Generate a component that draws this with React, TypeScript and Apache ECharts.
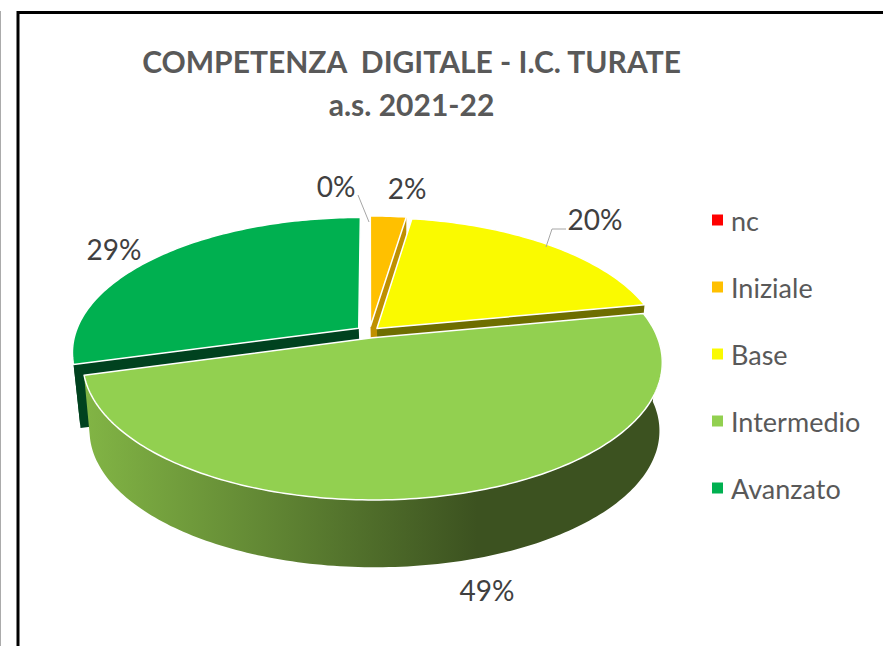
import React, { useEffect, useRef } from "react";
import * as echarts from "echarts";

const categories = ["nc", "Iniziale", "Base", "Intermedio", "Avanzato"];
const values = [0, 2.4, 19.6, 48.7, 29.3];
const colors = ["#FF0000", "#FFC000", "#FAFA00", "#92D050", "#00B050"];
const cutColors = ["#800000", "#BF9000", "#6E6E00", "#5E8A2E", "#00421F"];
const drawOrder = [4, 0, 1, 2, 3];
const explode = [0.045, 0.045, 0.038, 0.045, 0.048];

// pie projection
const CX = 369.5, CY = 332, A = 283, B = 131.4, P = 0.1757, P_BOTTOM = 0.21;
const DEPTH = 64, SHRINK = 0.975, BOTTOM_DX = 2;

// label centres and leader lines
const labelPos: [number, number][] = [[336, 186], [407, 188], [595, 219], [487, 590], [114, 249]];
const leaders: ([number, number][] | null)[] = [
  [[358, 195], [369, 222]], null, [[566, 229], [552, 229], [546, 247]], null, null,
];

const FONT = "Lato, Carlito, sans-serif";
const total = values.reduce((s, v) => s + v, 0);
const rad = (i: number) => (values.slice(0, i).reduce((s, v) => s + v, 0) / total) * Math.PI * 2;

const project = (u: number, v: number, bottom: boolean): number[] => {
  const w = 1 - (bottom ? P_BOTTOM : P) * v;
  const s = bottom ? SHRINK : 1;
  return [CX + (bottom ? BOTTOM_DX : 0) + (s * A * u) / w, CY + (bottom ? DEPTH : 0) + (s * B * v) / w];
};

function buildSlice(i: number) {
  const start = rad(i), end = rad(i + 1), mid = (start + end) / 2;
  const ou = explode[i] * Math.sin(mid), ov = -explode[i] * Math.cos(mid);
  const rim = (t: number, bottom: boolean) => project(ou + Math.sin(t), ov - Math.cos(t), bottom);
  const apex = (bottom: boolean) => project(ou, ov, bottom);
  const arc = (a: number, b: number, bottom: boolean) => {
    const pts: number[][] = [];
    const n = Math.max(2, Math.ceil(((b - a) * 180) / Math.PI));
    for (let k = 0; k <= n; k++) pts.push(rim(a + ((b - a) * k) / n, bottom));
    return pts;
  };
  const children: any[] = [];
  if (end - start > 0) {
    // side wall: only the half turned towards the viewer
    const wa = Math.max(start, Math.PI / 2), wb = Math.min(end, (Math.PI * 3) / 2);
    if (wb > wa) {
      const fill = i === 3
        ? new echarts.graphic.LinearGradient(0, 0, 1, 0, [
            { offset: 0, color: "#82B545" },
            { offset: 0.68, color: "#3C5220" },
            { offset: 1, color: "#3C5220" },
          ])
        : cutColors[i];
      children.push({
        type: "polygon",
        shape: { points: [...arc(wa, wb, false), ...arc(wa, wb, true).reverse()] },
        style: { fill },
      });
    }
    // cut faces turned towards the viewer
    const cut = (t: number) => ({
      type: "polygon",
      shape: { points: [apex(false), rim(t, false), rim(t, true), apex(true)] },
      style: { fill: cutColors[i] },
    });
    if (Math.sin(start) < -0.01) children.push(cut(start));
    if (Math.sin(end) > 0.01) children.push(cut(end));
    // top face
    children.push({
      type: "polygon",
      shape: { points: [apex(false), ...arc(start, end, false)] },
      style: { fill: colors[i], stroke: "#FFFFFF", lineWidth: 1.5, lineJoin: "round" },
    });
  }
  return children;
}

function buildLabel(i: number) {
  const out: any[] = [];
  const l = leaders[i];
  if (l) out.push({ type: "polyline", shape: { points: l }, style: { fill: "none", stroke: "#A6A6A6", lineWidth: 1 } });
  out.push({
    type: "text",
    style: {
      text: `${Math.round((values[i] / total) * 100)}%`,
      x: labelPos[i][0], y: labelPos[i][1],
      align: "center", verticalAlign: "middle",
      fill: "#404040", font: `28px ${FONT}`,
    },
  });
  return out;
}

export default function App() {
  const ref = useRef<HTMLDivElement>(null);
  useEffect(() => {
    document.body.style.margin = "0";
    const chart = echarts.init(ref.current!, undefined, { renderer: "svg" });
    chart.setOption({
      animation: false,
      backgroundColor: "#FFFFFF",
      title: {
        text: "COMPETENZA  DIGITALE - I.C. TURATE\na.s. 2021-22",
        left: 406.5, top: 34, textAlign: "center",
        textStyle: { fontFamily: FONT, fontWeight: "bold", fontSize: 30, lineHeight: 43, color: "#595959" },
      },
      legend: {
        orient: "vertical", left: 707, top: 200, itemWidth: 11, itemHeight: 11, itemGap: 37, icon: "rect",
        data: categories.map((name, i) => ({ name, itemStyle: { color: colors[i] } })),
        textStyle: { fontFamily: FONT, fontSize: 27, lineHeight: 30, color: "#595959", padding: [0, 0, 0, 3] },
      },
      graphic: [
        { type: "line", shape: { x1: 0.5, y1: 11, x2: 0.5, y2: 646 }, style: { stroke: "#ABABAB", lineWidth: 1 } },
        { type: "polyline", shape: { points: [[18, 646], [18, 12.5], [883, 12.5]] }, style: { fill: "none", stroke: "#000000", lineWidth: 3 } },
      ],
      series: [
        ...drawOrder.map((i, z) => ({
          type: "custom",
          name: categories[i],
          coordinateSystem: "none",
          z: z + 2,
          silent: true,
          itemStyle: { color: colors[i] },
          data: [values[i]],
          renderItem: () => ({ type: "group", children: buildSlice(i) }),
        })),
        {
          type: "custom",
          coordinateSystem: "none",
          z: 10,
          silent: true,
          data: values,
          renderItem: (p: any) => ({ type: "group", children: buildLabel(p.dataIndex) }),
        },
      ],
    });
    return () => chart.dispose();
  }, []);
  return <div ref={ref} style={{ position: "absolute", left: 0, top: 0, width: 883, height: 646 }} />;
}
